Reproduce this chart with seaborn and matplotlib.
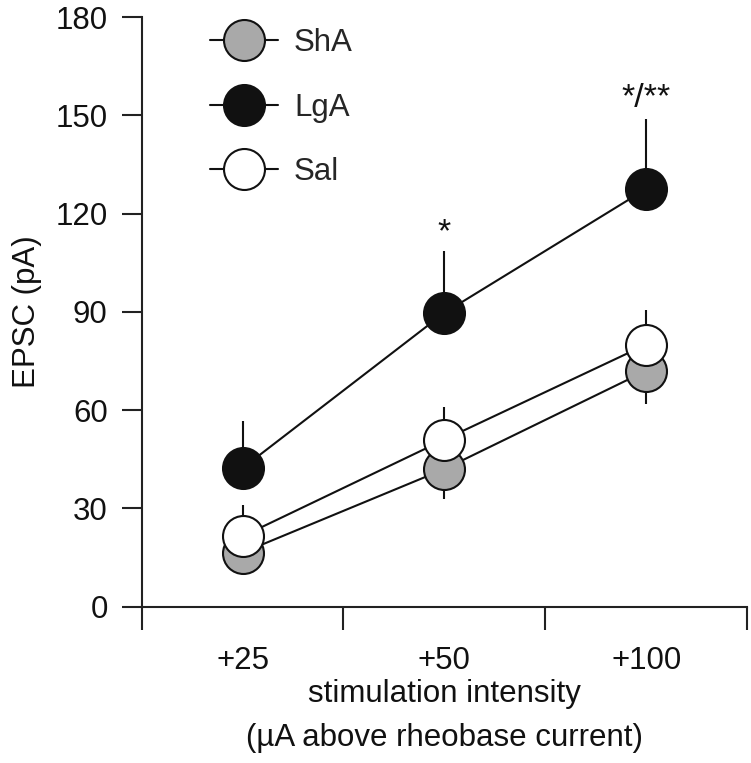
import numpy as np
import pandas as pd
import matplotlib
matplotlib.use("Agg")
import matplotlib.pyplot as plt
import seaborn as sns
from matplotlib.lines import Line2D

# ---- data ----
categories = ["+25", "+50", "+100"]
groups = ["ShA", "LgA", "Sal"]
sha_mean = [16.5, 42, 72]
sha_err = [5, 9, 10]          # drawn downward
lga_mean = [42.3, 89.7, 127.5]
lga_err = [14.5, 19, 21.5]    # drawn upward
sal_mean = [21.5, 51, 80]
sal_err = [9.5, 10, 10.5]     # drawn upward
annot_text = ["*", "*/**"]
annot_cat = ["+50", "+100"]
annot_y = [114, 155]
yticks = [0, 30, 60, 90, 120, 150, 180]

sns.set_theme(style="white")
plt.rcParams["font.family"] = ["Liberation Sans", "DejaVu Sans"]
FS = 22.5

pos = {c: i for i, c in enumerate(categories)}
rows = []
for g, m, e, d in [("ShA", sha_mean, sha_err, -1), ("LgA", lga_mean, lga_err, 1), ("Sal", sal_mean, sal_err, 1)]:
    for c, mv, ev in zip(categories, m, e):
        rows.append({"group": g, "cat": c, "x": pos[c], "mean": mv, "err": ev, "dir": d})
df = pd.DataFrame(rows)

face = {"ShA": "#a9a9a9", "LgA": "#111111", "Sal": "#ffffff"}

fig = plt.figure(figsize=(7.51, 7.63), dpi=100)
ax = fig.add_axes([0.1887, 0.2049, 0.9947 - 0.1887, 0.9777 - 0.2049])

lw = 1.5
ms = 29.5
for g in groups:
    sub = df[df.group == g]
    sns.lineplot(data=sub, x="x", y="mean", color="#111111", lw=lw, ax=ax,
                 legend=False, zorder=2, estimator=None, sort=False)
    # error bars (one-sided)
    for _, r in sub.iterrows():
        ax.plot([r.x, r.x], [r["mean"], r["mean"] + r.dir * r.err], color="#111111",
                lw=lw, zorder=2, solid_capstyle="butt")
z = 3
for g in groups:
    sub = df[df.group == g]
    ax.plot(sub.x, sub["mean"], ls="none", marker="o", ms=ms, mfc=face[g],
            mec="#111111", mew=lw, zorder=z)
    z += 1

for t, c, yv in zip(annot_text, annot_cat, annot_y):
    ax.text(pos[c], yv, t, ha="center", va="center", fontsize=FS + 2, color="#111111")

ax.set_xlim(-0.5, len(categories) - 0.5)
ax.set_ylim(0, 180)
ax.set_yticks(yticks)
ax.set_yticklabels([str(v) for v in yticks], fontsize=FS)
ax.set_xticks(np.arange(-0.5, len(categories), 1.0))
ax.set_xticklabels([])
ax.set_xticks(range(len(categories)), minor=True)
ax.set_xticklabels(categories, minor=True, fontsize=FS)
ax.tick_params(axis="x", which="major", direction="out", length=16.5, width=lw, color="#222222", bottom=True)
ax.tick_params(axis="x", which="minor", length=0, pad=28, bottom=True, labelcolor="#111111")
ax.tick_params(axis="y", which="major", direction="out", length=14.5, width=lw, color="#222222", pad=10, left=True, labelcolor="#111111")

for s in ["top", "right"]:
    ax.spines[s].set_visible(False)
for s in ["left", "bottom"]:
    ax.spines[s].set_linewidth(lw)
    ax.spines[s].set_color("#222222")

ax.set_xlabel("stimulation intensity\n(\u00b5A above rheobase current)", fontsize=FS, color="#111111", labelpad=2.5, linespacing=1.6)
ax.set_ylabel("EPSC (pA)", fontsize=FS, color="#111111", labelpad=10)
ax.grid(False)

handles = [Line2D([0], [0], color="#111111", lw=lw, marker="o", ms=ms, mfc=face[g],
                  mec="#111111", mew=lw) for g in groups]
leg = ax.legend(handles, groups, loc="upper left", bbox_to_anchor=(0.0916, 1.0027),
                frameon=False, fontsize=FS, handlelength=2.2, handletextpad=0.5,
                labelspacing=1.11, borderaxespad=0)

fig.savefig("out.png", dpi=100, facecolor="white")
